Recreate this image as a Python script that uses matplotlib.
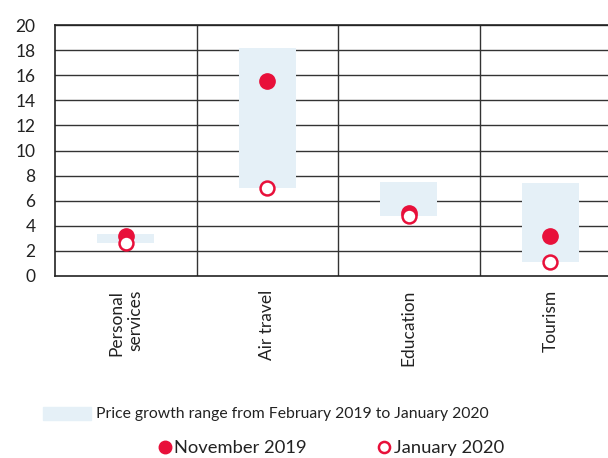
import matplotlib.pyplot as plt
from matplotlib.patches import Patch
from matplotlib.lines import Line2D

categories = ["Personal\nservices", "Air travel", "Education", "Tourism"]
range_low = [2.65, 7.05, 4.8, 1.15]
range_high = [3.35, 18.2, 7.5, 7.45]
nov_2019 = [3.2, 15.5, 5.0, 3.2]
jan_2020 = [2.65, 7.05, 4.8, 1.15]

red = "#E8103A"
band = "#E5F0F7"
plt.rcParams['font.family'] = ['Lato', 'DejaVu Sans']

fig = plt.figure(figsize=(6.08, 4.58), dpi=100)
ax = fig.add_axes([55/608, 1-276/458, 1-55/608, (276-25)/458])

x = list(range(len(categories)))
heights = [h - l for h, l in zip(range_high, range_low)]
ax.bar(x, heights, bottom=range_low, width=0.4, color=band, zorder=1)
ax.plot(x, nov_2019, "o", color=red, markersize=11, zorder=3)
ax.plot(x, jan_2020, "o", markerfacecolor="white", markeredgecolor=red,
        markeredgewidth=1.8, markersize=10, zorder=4)

ax.set_ylim(0, 20)
ax.set_yticks(range(0, 21, 2))
ax.set_xlim(-0.5, 3.5 - 13/141.5)
for y in range(2, 21, 2):
    ax.axhline(y, color="#333333", lw=1, zorder=0)
for xs in [0.5, 1.5, 2.5]:
    ax.axvline(xs, color="#333333", lw=1, zorder=0)

ax.set_xticks(x)
ax.set_xticklabels(categories, rotation=90, va="top", ha="center",
                   multialignment="right", fontsize=12.5)
ax.tick_params(axis="both", length=0, labelsize=12.5, colors="#222222")
ax.tick_params(axis="x", pad=10)
ax.tick_params(axis="y", pad=14)
for s in ["left", "bottom", "top"]:
    ax.spines[s].set_color("#222222")
    ax.spines[s].set_linewidth(1.2)
ax.spines["right"].set_visible(False)

leg1 = fig.legend(handles=[Patch(color=band)],
                  labels=["Price growth range from February 2019 to January 2020"],
                  loc="center", bbox_to_anchor=(266/608, 1-414/458), frameon=False,
                  fontsize=11.3, handlelength=3.05, handleheight=0.9, handletextpad=0.35)
h_nov = Line2D([], [], ls="", marker="o", color=red, markersize=9)
h_jan = Line2D([], [], ls="", marker="o", markerfacecolor="white",
               markeredgecolor=red, markeredgewidth=1.8, markersize=8)
leg2 = fig.legend(handles=[h_nov, h_jan], labels=["November 2019", "January 2020"],
                  loc="center", bbox_to_anchor=(332/608, 1-448/458), frameon=False,
                  ncol=2, fontsize=13.2, handlelength=0.5, handletextpad=0.25,
                  columnspacing=4.0)
for leg in (leg1, leg2):
    for t in leg.get_texts():
        t.set_color("#222222")

fig.savefig("out.png", dpi=100)
